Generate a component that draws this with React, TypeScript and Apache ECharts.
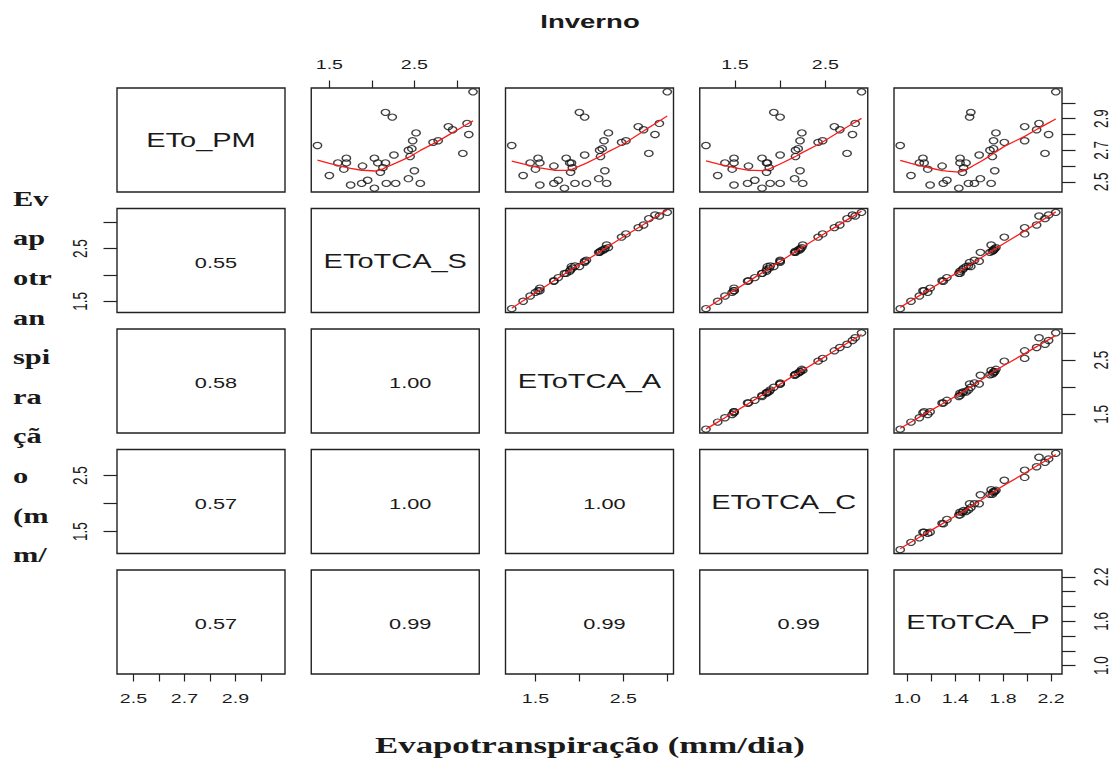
import React, { useEffect, useRef } from "react";
import * as echarts from "echarts";

// Daily winter reference evapotranspiration (mm/dia), one entry per day
const varNames = ["ETo_PM", "EToTCA_S", "EToTCA_A", "EToTCA_C", "EToTCA_P"];
const etoPM = [2.73, 2.54, 2.62, 2.65, 2.62, 2.58, 2.48, 2.6, 2.49, 2.51, 2.46, 2.65, 2.62, 2.56, 2.59, 2.62, 2.94, 2.91, 2.49, 2.67, 2.49, 2.52, 2.7, 2.66, 2.71, 2.76, 2.57, 2.81, 2.49, 2.75, 2.76, 2.85, 2.83, 2.68, 2.87, 2.8, 3.07];
const etoTcaS = [1.36, 1.5, 1.6, 1.7, 1.7, 1.67, 1.75, 1.89, 1.88, 1.95, 2.03, 2.03, 2.07, 2.1, 2.13, 2.16, 2.16, 2.24, 2.17, 2.26, 2.28, 2.43, 2.43, 2.45, 2.47, 2.48, 2.5, 2.52, 2.57, 2.72, 2.78, 2.9, 2.95, 3.07, 3.12, 3.14, 3.19];
const etoTcaA = [1.23, 1.36, 1.44, 1.53, 1.55, 1.5, 1.55, 1.71, 1.71, 1.76, 1.83, 1.85, 1.89, 1.9, 1.92, 1.91, 2.0, 2.06, 1.95, 2.06, 2.08, 2.22, 2.23, 2.24, 2.26, 2.28, 2.29, 2.33, 2.31, 2.48, 2.53, 2.67, 2.73, 2.79, 2.91, 2.86, 3.0];
const etoTcaC = [1.18, 1.31, 1.39, 1.49, 1.49, 1.47, 1.49, 1.65, 1.64, 1.72, 1.8, 1.8, 1.85, 1.85, 1.88, 1.86, 1.93, 2.0, 1.89, 2.0, 2.0, 2.16, 2.17, 2.17, 2.2, 2.22, 2.22, 2.24, 2.25, 2.42, 2.47, 2.6, 2.66, 2.74, 2.83, 2.8, 2.9];
const etoTcaP = [0.94, 1.03, 1.1, 1.13, 1.14, 1.17, 1.19, 1.29, 1.3, 1.33, 1.43, 1.44, 1.44, 1.46, 1.47, 1.49, 1.53, 1.52, 1.51, 1.6, 1.56, 1.61, 1.69, 1.71, 1.72, 1.72, 1.73, 1.74, 1.7, 1.81, 1.98, 1.98, 2.08, 2.15, 2.1, 2.18, 2.24];

// Pearson correlations shown in the lower triangle, row by row
const corrLabels = [
  ["0.55"],
  ["0.58", "1.00"],
  ["0.57", "1.00", "1.00"],
  ["0.57", "0.99", "0.99", "0.99"],
];

// Outer axis ticks and their labels
const pmTicks = [2.5, 2.6, 2.7, 2.8, 2.9, 3.0];
const pmLabels = [2.5, 2.7, 2.9];
const sTicks = [1.5, 2.0, 2.5, 3.0];
const sLabels = [1.5, 2.5];
const aTicks = [1.5, 2.0, 2.5, 3.0];
const aLabels = [1.5, 2.5];
const cTicks = [1.5, 2.0, 2.5];
const cLabels = [1.5, 2.5];
const pTicks = [1.0, 1.2, 1.4, 1.6, 1.8, 2.0, 2.2];
const pLabelsBottom = [1.0, 1.4, 1.8, 2.2];
const pLabelsRight = [1.0, 1.6, 2.2];

const titleText = "Inverno";
const xTitleText = "Evapotranspiração (mm/dia)";
const yTitleLines = ["Ev", "ap", "otr", "an", "spi", "ra", "çã", "o", "(m", "m/"];

// Layout of the 5 x 5 panel matrix
const W = 1118;
const H = 762;
const COL0 = 117;
const COL_STEP = 194.25;
const ROW0 = 88;
const ROW_STEP = 120.5;
const PW = 168;
const PH = 104;
const STRETCH = 1.45;
const SANS = '"Liberation Sans", Arial, Helvetica, sans-serif';
const SERIF = '"Liberation Serif", "Times New Roman", serif';
const INK = "#1a1a1a";

// Locally weighted scatterplot smoothing (tricube weights, robustness iterations)
function lowess(xIn: number[], yIn: number[], f = 2 / 3, iter = 3): number[][] {
  const order = xIn.map((_, i) => i).sort((a, b) => xIn[a] - xIn[b]);
  const x = order.map((i) => xIn[i]);
  const y = order.map((i) => yIn[i]);
  const n = x.length;
  const ns = Math.max(2, Math.min(n, Math.floor(f * n + 1e-7)));
  let rw = new Array(n).fill(1);
  const fit = new Array(n).fill(0);
  for (let it = 0; it <= iter; it++) {
    for (let i = 0; i < n; i++) {
      const d = x.map((v) => Math.abs(v - x[i])).sort((a, b) => a - b);
      const h = Math.max(d[ns - 1], 1e-12);
      let sw = 0, swx = 0, swy = 0;
      const w = x.map((v, j) => {
        const r = Math.abs(v - x[i]);
        let wt = 0;
        if (r <= 0.999 * h) wt = r > 0.001 * h ? Math.pow(1 - Math.pow(r / h, 3), 3) : 1;
        return wt * rw[j];
      });
      for (let j = 0; j < n; j++) { sw += w[j]; swx += w[j] * x[j]; swy += w[j] * y[j]; }
      if (sw <= 0) { fit[i] = y[i]; continue; }
      const mx = swx / sw, my = swy / sw;
      let sxx = 0, sxy = 0;
      for (let j = 0; j < n; j++) { sxx += w[j] * (x[j] - mx) ** 2; sxy += w[j] * (x[j] - mx) * (y[j] - my); }
      const b = sxx > 1e-12 ? sxy / sxx : 0;
      fit[i] = my + b * (x[i] - mx);
    }
    if (it === iter) break;
    const res = y.map((v, j) => v - fit[j]);
    const abs = res.map(Math.abs).sort((a, b) => a - b);
    const mid = Math.floor(n / 2);
    const med = n % 2 ? abs[mid] : (abs[mid - 1] + abs[mid]) / 2;
    const cmad = 6 * med;
    if (cmad < 1e-9) break;
    rw = res.map((e) => {
      const u = Math.abs(e);
      if (u <= 0.001 * cmad) return 1;
      if (u > 0.999 * cmad) return 0;
      return (1 - (u / cmad) ** 2) ** 2;
    });
  }
  return x.map((v, i) => [v, fit[i]]);
}

const vars = [etoPM, etoTcaS, etoTcaA, etoTcaC, etoTcaP];
const ranges = vars.map((v) => {
  const lo = Math.min(...v);
  const hi = Math.max(...v);
  const pad = (hi - lo) * 0.04;
  return [lo - pad, hi + pad];
});

type TickSpec = { ticks: number[]; top?: number[]; bottom?: number[]; left?: number[]; right?: number[] };
const tickSpecs: TickSpec[] = [
  { ticks: pmTicks, bottom: pmLabels, right: pmLabels },
  { ticks: sTicks, top: sLabels, left: sLabels },
  { ticks: aTicks, bottom: aLabels, right: aLabels },
  { ticks: cTicks, top: cLabels, left: cLabels },
  { ticks: pTicks, bottom: pLabelsBottom, right: pLabelsRight },
];

const colLeft = (c: number) => COL0 + c * COL_STEP;
const rowTop = (r: number) => ROW0 + r * ROW_STEP;

function xAxisSide(r: number, c: number): "top" | "bottom" | null {
  if (r === 0 && c % 2 === 1) return "top";
  if (r === 4 && c % 2 === 0) return "bottom";
  return null;
}
function yAxisSide(r: number, c: number): "left" | "right" | null {
  if (c === 0 && r % 2 === 1) return "left";
  if (c === 4 && r % 2 === 0) return "right";
  return null;
}

function buildOption() {
  const grid: any[] = [];
  const xAxis: any[] = [];
  const yAxis: any[] = [];
  const series: any[] = [];
  for (let r = 0; r < 5; r++) {
    for (let c = 0; c < 5; c++) {
      const g = r * 5 + c;
      grid.push({
        left: colLeft(c),
        top: rowTop(r),
        width: PW,
        height: PH,
        show: true,
        borderColor: "#222",
        borderWidth: 1.4,
        backgroundColor: "transparent",
      });
      const xs = xAxisSide(r, c);
      const ys = yAxisSide(r, c);
      xAxis.push({
        type: "value",
        gridIndex: g,
        min: ranges[c][0],
        max: ranges[c][1],
        position: xs === "top" ? "top" : "bottom",
        axisLine: { show: false },
        splitLine: { show: false },
        axisLabel: { show: false },
        axisTick: {
          show: xs !== null,
          customValues: tickSpecs[c].ticks,
          inside: false,
          length: 7.5,
          lineStyle: { color: "#222", width: 1.2 },
        },
      });
      yAxis.push({
        type: "value",
        gridIndex: g,
        min: ranges[r][0],
        max: ranges[r][1],
        position: ys === "left" ? "left" : "right",
        axisLine: { show: false },
        splitLine: { show: false },
        axisLabel: { show: false },
        axisTick: {
          show: ys !== null,
          customValues: tickSpecs[r].ticks,
          inside: false,
          length: 13.5,
          lineStyle: { color: "#222", width: 1.2 },
        },
      });
      if (c > r) {
        const xv = vars[c];
        const yv = vars[r];
        series.push({
          type: "scatter",
          xAxisIndex: g,
          yAxisIndex: g,
          symbol: "circle",
          symbolSize: [8.4, 6.2],
          itemStyle: { color: "rgba(0,0,0,0)", borderColor: "#111", borderWidth: 1.3 },
          data: xv.map((v, i) => [v, yv[i]]),
          silent: true,
        });
        series.push({
          type: "line",
          xAxisIndex: g,
          yAxisIndex: g,
          showSymbol: false,
          symbol: "none",
          lineStyle: { color: "#ff1a1a", width: 1.3 },
          data: lowess(xv, yv),
          silent: true,
        });
      }
    }
  }
  return { animation: false, grid, xAxis, yAxis, series };
}

function textEl(text: string, x: number, y: number, font: string, opts: any = {}) {
  const align = opts.align || "center";
  const vAlign = opts.verticalAlign || "middle";
  return {
    type: "text",
    x,
    y,
    rotation: opts.rotation || 0,
    scaleX: opts.scaleX ?? STRETCH,
    scaleY: opts.scaleY ?? 1,
    silent: true,
    style: {
      text,
      font,
      fill: INK,
      align,
      textAlign: align,
      verticalAlign: vAlign,
      textVerticalAlign: vAlign,
      lineHeight: opts.lineHeight,
    },
  };
}

function buildTexts(chart: echarts.ECharts) {
  const els: any[] = [];
  const tickFont = `13.5px ${SANS}`;
  for (let r = 0; r < 5; r++) {
    for (let c = 0; c < 5; c++) {
      const g = r * 5 + c;
      const cx = colLeft(c) + PW / 2;
      const cy = rowTop(r) + PH / 2;
      if (r === c) {
        els.push(textEl(varNames[r], cx, cy, `20px ${SANS}`));
      } else if (r > c) {
        els.push(textEl(corrLabels[r - 1][c], cx + 15, cy + 2, `15px ${SANS}`));
      }
      const xs = xAxisSide(r, c);
      if (xs) {
        const labels = (tickSpecs[c] as any)[xs] as number[];
        labels.forEach((v) => {
          const px = chart.convertToPixel({ xAxisIndex: g }, v) as unknown as number;
          const py = xs === "top" ? rowTop(r) - 23 : rowTop(r) + PH + 25;
          els.push(textEl(v.toFixed(1), px, py, tickFont));
        });
      }
      const ys = yAxisSide(r, c);
      if (ys) {
        const labels = (tickSpecs[r] as any)[ys] as number[];
        labels.forEach((v) => {
          const py = chart.convertToPixel({ yAxisIndex: g }, v) as unknown as number;
          const px = ys === "left" ? colLeft(c) - 36 : colLeft(c) + PW + 40;
          els.push(textEl(v.toFixed(1), px, py, tickFont, { rotation: Math.PI / 2, scaleX: 1, scaleY: STRETCH }));
        });
      }
    }
  }
  els.push(textEl(titleText, W / 2 + 31, 22, `bold 19px ${SANS}`));
  els.push(textEl(xTitleText, W / 2 + 31, 745, `bold 24px ${SERIF}`));
  // Side title broken into short stacked pieces
  yTitleLines.forEach((piece, i) => {
    els.push(textEl(piece, 13, 199 + i * 39.6, `bold 21px ${SERIF}`, { align: "left" }));
  });
  return els;
}

export default function App() {
  const ref = useRef<HTMLDivElement>(null);
  useEffect(() => {
    if (!ref.current) return;
    const chart = echarts.init(ref.current, null, { renderer: "svg", width: W, height: H });
    chart.setOption(buildOption());
    chart.setOption({ graphic: { elements: buildTexts(chart) } });
    return () => chart.dispose();
  }, []);
  return (
    <div
      ref={ref}
      style={{ position: "absolute", left: 0, top: 0, width: W, height: H, background: "#fff" }}
    />
  );
}
